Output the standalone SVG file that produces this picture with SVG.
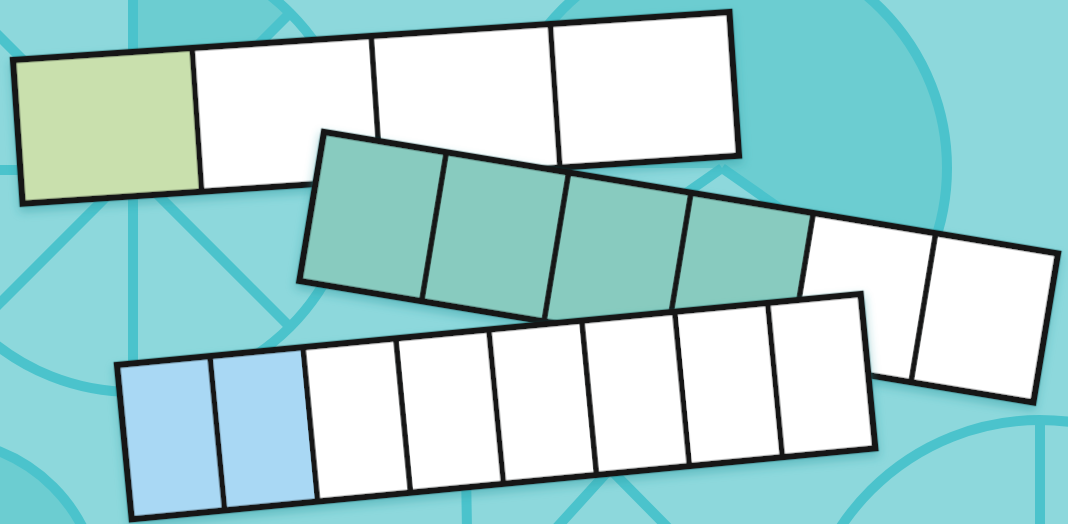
<svg xmlns="http://www.w3.org/2000/svg" width="1068" height="524" viewBox="0 0 1068 524">
<defs>
<style>
.ln{fill:none;stroke:#4bc3cc;stroke-width:10}
.dark{fill:#6ccdd1}
.bg{fill:#8dd8dc}
.white{fill:#ffffff}
.green{fill:#c9e0ad}
.teal{fill:#88cbbf}
.blue{fill:#a9d8f4}
.frame{fill:none;stroke:#141818;stroke-width:6.5;stroke-linejoin:miter}
.div{fill:none;stroke:#141818;stroke-width:5.5}
</style>
<filter id="sh" x="-5%" y="-10%" width="110%" height="130%">
<feDropShadow dx="0" dy="5" stdDeviation="5" flood-color="#2f9aa0" flood-opacity="0.45"/>
</filter>
</defs>
<rect class="bg" x="0" y="0" width="1068" height="524"/>
<g id="background">
<g id="circle-a">
<path class="dark" d="M133,170 L133,-52 A222,222 0 0 1 290,13 Z"/>
<circle class="ln" cx="133" cy="170" r="222"/>
<path class="ln" d="M133,170 L355,170 M133,170 L290,327 M133,170 L133,392 M133,170 L-24,327 M133,170 L-89,170 M133,170 L-24,13 M133,170 L133,-52 M133,170 L290,13"/>
</g>
<g id="circle-b">
<circle class="dark" cx="722" cy="168" r="225"/>
<path class="bg" d="M722,168 L906.3,297 A225,225 0 0 1 497,168 Z"/>
<circle class="ln" cx="722" cy="168" r="225"/>
<path class="ln" d="M722,168 L906.3,297 M722,168 L537.7,297"/>
</g>
<g id="circle-c">
<circle class="ln" cx="1040" cy="659" r="239"/>
<path class="ln" d="M1040,659 L1040,420"/>
</g>
<g id="circle-d">
<circle class="dark" cx="-60" cy="600" r="160"/>
<circle class="ln" cx="-60" cy="600" r="160"/>
</g>
<g id="circle-e">
<path class="ln" d="M610,469 L540,546 M610,469 L686,546 M466,470 L467,530"/>
</g>
</g>
<g id="strip-1" transform="translate(13,60) rotate(-3.83)" filter="url(#sh)">
<rect class="green" x="0" y="0" width="179.5" height="144"/>
<rect class="white" x="179.5" y="0" width="179.5" height="144"/>
<rect class="white" x="359" y="0" width="179.5" height="144"/>
<rect class="white" x="538.5" y="0" width="179.5" height="144"/>
<path class="div" d="M179.5,0 V144 M359,0 V144 M538.5,0 V144"/>
<rect class="frame" x="0" y="0" width="718" height="144"/>
</g>
<g id="strip-2" transform="translate(324,132) rotate(9.4)" filter="url(#sh)">
<rect class="teal" x="0" y="0" width="124" height="151"/>
<rect class="teal" x="124" y="0" width="124" height="151"/>
<rect class="teal" x="248" y="0" width="124" height="151"/>
<rect class="teal" x="372" y="0" width="124" height="151"/>
<rect class="white" x="496" y="0" width="124" height="151"/>
<rect class="white" x="620" y="0" width="124" height="151"/>
<path class="div" d="M124,0 V151 M248,0 V151 M372,0 V151 M496,0 V151 M620,0 V151"/>
<rect class="frame" x="0" y="0" width="744" height="151"/>
</g>
<g id="strip-3" transform="translate(117,365) rotate(-5.45)" filter="url(#sh)">
<rect class="blue" x="0" y="0" width="93.4" height="155"/>
<rect class="blue" x="93.4" y="0" width="93.4" height="155"/>
<rect class="white" x="186.8" y="0" width="560.2" height="155"/>
<path class="div" d="M93.4,0 V155 M186.8,0 V155 M280.1,0 V155 M373.5,0 V155 M466.9,0 V155 M560.3,0 V155 M653.6,0 V155"/>
<rect class="frame" x="0" y="0" width="747" height="155"/>
</g>
</svg>
